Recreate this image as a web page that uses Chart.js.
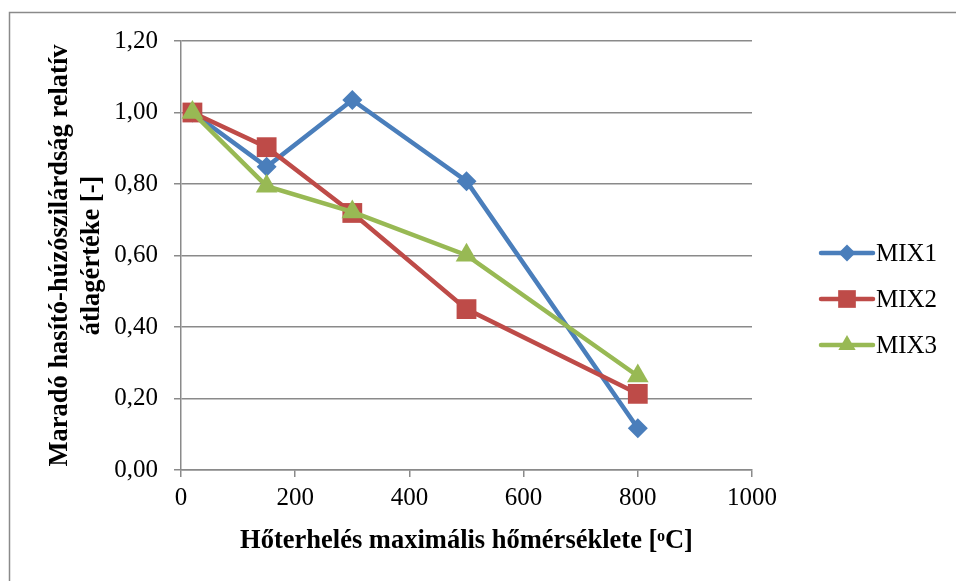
<!DOCTYPE html>
<html>
<head>
<meta charset="utf-8">
<script src="https://cdn.jsdelivr.net/npm/chart.js@4/dist/chart.umd.min.js"></script>
<style>
  html, body { margin: 0; padding: 0; background: #fff; }
  canvas { display: block; }
</style>
</head>
<body>
<canvas id="chart" width="956" height="581"></canvas>
<script>
// measured values: temperature vs. relative residual splitting tensile strength
const temps = [20, 150, 300, 500, 800];
const mix1 = [1.00, 0.848, 1.035, 0.808, 0.117];
const mix2 = [1.00, 0.903, 0.719, 0.450, 0.213];
const mix3 = [1.00, 0.794, 0.722, 0.601, 0.263];
const seriesNames = ['MIX1', 'MIX2', 'MIX3'];
const xTitle = 'Hőterhelés maximális hőmérséklete [ᵒC]';
const yTitle = ['Maradó hasító-húzószilárdság relatív', 'átlagértéke [-]'];

const colors = ['#4A7EBB', '#BE4B48', '#98B954'];
const styles = ['rectRot', 'rect', 'triangle'];
const radii = [10, 14, 12.5];
const FONT = "'Liberation Serif', 'Times New Roman', serif";
const GRID = '#8a8a8a';

function toPoints(ys){
    return temps.map((t,i)=>({x:t, y:ys[i]}));
}

const datasets = [mix1, mix2, mix3].map((ys,i)=>({
    label: seriesNames[i],
    data: toPoints(ys),
    borderColor: colors[i],
    backgroundColor: colors[i],
    borderWidth: 4.5,
    pointStyle: styles[i],
    pointRadius: radii[i],
    pointHoverRadius: radii[i],
    pointBorderWidth: 0,
    pointBackgroundColor: colors[i],
    tension: 0,
    order: 3 - i
}));

// outer frame
const framePlugin = {
    id: 'frame',
    beforeDraw(chart){
        const ctx = chart.ctx;
        ctx.save();
        ctx.strokeStyle = GRID;
        ctx.lineWidth = 1.5;
        ctx.strokeRect(9.5, 12.5, 1000, 1000);
        ctx.restore();
    }
};

// legend on the right: short line with marker, then name
const legendPlugin = {
    id: 'sideLegend',
    afterDraw(chart){
        const ctx = chart.ctx;
        const legendR = [8.5, 12.5, 10];
        ctx.save();
        seriesNames.forEach((name,i)=>{
            const y = 253 + i*46;
            ctx.strokeStyle = colors[i];
            ctx.lineWidth = 4.5;
            ctx.lineCap = 'round';
            ctx.beginPath();
            ctx.moveTo(821, y);
            ctx.lineTo(873, y);
            ctx.stroke();
            ctx.fillStyle = colors[i];
            Chart.helpers.drawPoint(ctx, {pointStyle: styles[i], radius: legendR[i], rotation: 0, borderWidth: 0}, 847, y);
            ctx.fillStyle = '#000';
            ctx.font = '25px ' + FONT;
            ctx.textBaseline = 'middle';
            ctx.textAlign = 'left';
            ctx.fillText(name, 876, y + 1);
        });
        ctx.restore();
    }
};

new Chart(document.getElementById('chart'), {
    type: 'line',
    data: { datasets },
    options: {
        responsive: false,
        animation: false,
        events: [],
        layout: { padding: { left: 40, right: 204, top: 41, bottom: 20 } },
        plugins: { legend: { display: false }, tooltip: { enabled: false } },
        scales: {
            x: {
                type: 'linear',
                min: 0, max: 1000,
                ticks: { stepSize: 200, color: '#000', padding: 6, font: { family: FONT, size: 25 },
                    callback: v => String(v) },
                grid: { drawOnChartArea: false, color: GRID, tickLength: 7, lineWidth: 1.5 },
                border: { color: GRID, width: 1.5 },
                title: { display: true, text: xTitle, color: '#000', padding: { top: 4, bottom: 4 }, font: { family: FONT, size: 26.5, weight: 'bold' } },
                afterFit(scale){ scale.height = 91; }
            },
            y: {
                min: 0, max: 1.2,
                ticks: { stepSize: 0.2, color: '#000', padding: 16, font: { family: FONT, size: 25 },
                    callback: v => v.toFixed(2).replace('.', ',') },
                grid: { color: GRID, tickLength: 7, lineWidth: 1.5 },
                border: { color: GRID, width: 1.5 },
                title: { display: true, text: yTitle, color: '#000', padding: { top: 4, bottom: 0 }, font: { family: FONT, size: 26.5, weight: 'bold' }, },
                afterFit(scale){ scale.width = 141; }
            }
        }
    },
    plugins: [framePlugin, legendPlugin]
});
</script>
</body>
</html>
